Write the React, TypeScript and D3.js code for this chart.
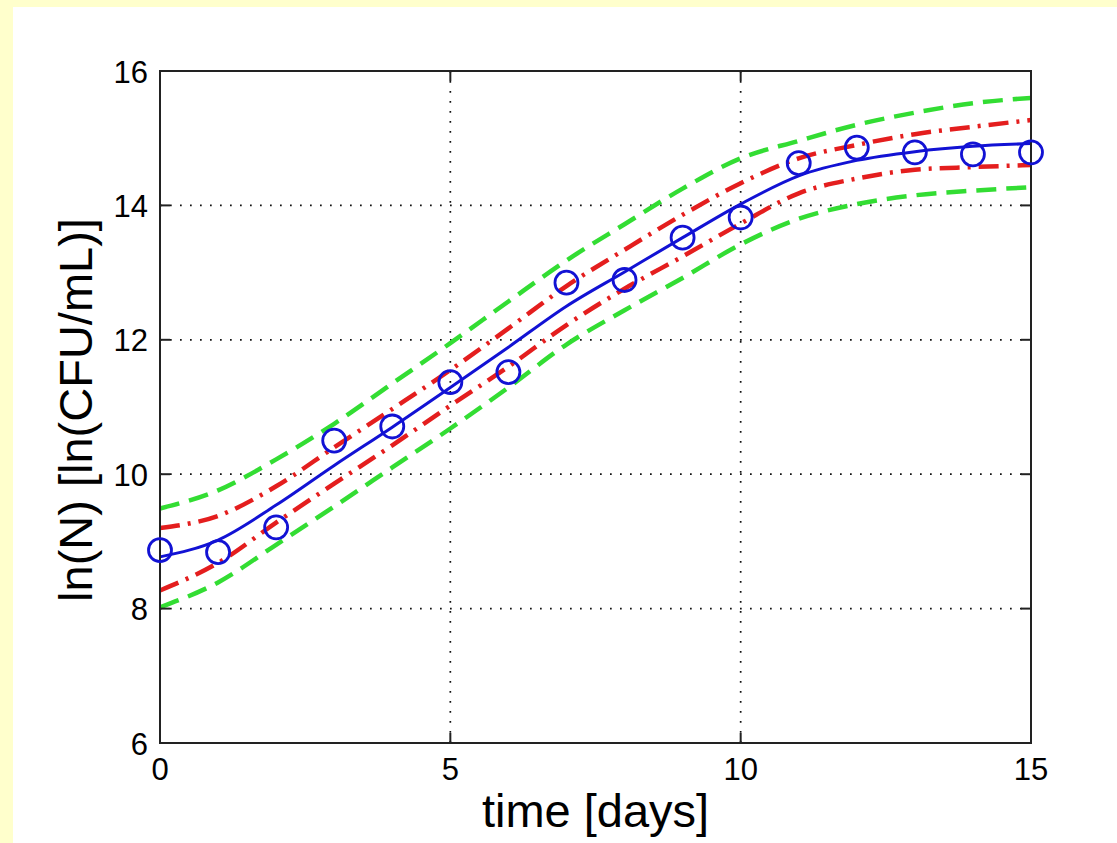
import React from "react";
import * as d3 from "d3";

const days = [0, 1, 2, 3, 4, 5, 6, 7, 8, 9, 10, 11, 12, 13, 14, 15];
const observed = [8.87, 8.84, 9.21, 10.5, 10.71, 11.37, 11.52, 12.85, 12.89, 13.52, 13.82, 14.63, 14.86, 14.79, 14.76, 14.79];
const fitted = [8.77, 9.02, 9.54, 10.13, 10.7, 11.29, 11.89, 12.5, 13.01, 13.52, 14.02, 14.44, 14.67, 14.8, 14.88, 14.92];
const ciUpper = [9.2, 9.38, 9.82, 10.4, 10.97, 11.55, 12.17, 12.8, 13.34, 13.86, 14.33, 14.7, 14.9, 15.06, 15.17, 15.27];
const ciLower = [8.27, 8.68, 9.28, 9.86, 10.43, 11.02, 11.6, 12.22, 12.76, 13.24, 13.73, 14.18, 14.4, 14.53, 14.57, 14.6];
const piUpper = [9.49, 9.76, 10.22, 10.75, 11.35, 11.95, 12.57, 13.18, 13.72, 14.25, 14.7, 14.96, 15.2, 15.38, 15.52, 15.6];
const piLower = [8.02, 8.39, 8.95, 9.52, 10.1, 10.68, 11.29, 11.93, 12.44, 12.92, 13.42, 13.8, 14.02, 14.15, 14.22, 14.27];
const xTicks = [0, 5, 10, 15];
const yTicks = [6, 8, 10, 12, 14, 16];
const xLabel = "time [days]";
const yLabel = "ln(N) [ln(CFU/mL)]";

const FONT = "'Liberation Sans', Arial, Helvetica, sans-serif";

export default function App() {
  const W = 1117;
  const H = 843;
  const left = 160, right = 1031, top = 71, bottom = 743;
  const x = d3.scaleLinear().domain([0, 15]).range([left, right]);
  const y = d3.scaleLinear().domain([6, 16]).range([bottom, top]);
  const mk = (vals: number[]) =>
    d3
      .line<number>()
      .x((_, i) => x(days[i]))
      .y((d) => y(d))
      .curve(d3.curveMonotoneX)(vals) || "";

  const tickLen = 10;
  const gridColor = "#111";

  return (
    <svg
      width={W}
      height={H}
      style={{ position: "absolute", left: 0, top: 0, display: "block" }}
    >
      <rect x={0} y={0} width={W} height={H} fill="#FFFFCC" />
      <rect x={13} y={7} width={W - 13} height={H - 7} fill="#FFFFFF" />

      {/* grid */}
      {xTicks
        .filter((t) => t !== 0 && t !== 15)
        .map((t) => (
          <line
            key={"gx" + t}
            x1={x(t)}
            x2={x(t)}
            y1={top}
            y2={bottom}
            stroke={gridColor}
            strokeWidth={1.7}
            strokeDasharray="1.7 8.3"
          />
        ))}
      {yTicks
        .filter((t) => t !== 6 && t !== 16)
        .map((t) => (
          <line
            key={"gy" + t}
            x1={left}
            x2={right}
            y1={y(t)}
            y2={y(t)}
            stroke={gridColor}
            strokeWidth={1.7}
            strokeDasharray="1.7 8.3"
          />
        ))}

      {/* prediction bands (green dashed) */}
      <path d={mk(piUpper)} fill="none" stroke="#33dd33" strokeWidth={4.5} strokeDasharray="20 10" />
      <path d={mk(piLower)} fill="none" stroke="#33dd33" strokeWidth={4.5} strokeDasharray="20 10" />
      {/* confidence bands (red dash-dot) */}
      <path d={mk(ciUpper)} fill="none" stroke="#e41e1e" strokeWidth={4.5} strokeDasharray="20 8 3 8" />
      <path d={mk(ciLower)} fill="none" stroke="#e41e1e" strokeWidth={4.5} strokeDasharray="20 8 3 8" />
      {/* fitted line */}
      <path d={mk(fitted)} fill="none" stroke="#1212d4" strokeWidth={3} />

      {/* frame */}
      <rect x={left} y={top} width={right - left} height={bottom - top} fill="none" stroke="#222" strokeWidth={2} />
      {xTicks.map((t) => (
        <g key={"tx" + t}>
          <line x1={x(t)} x2={x(t)} y1={bottom} y2={bottom - tickLen} stroke="#222" strokeWidth={2} />
          <line x1={x(t)} x2={x(t)} y1={top} y2={top + tickLen} stroke="#222" strokeWidth={2} />
          <text x={x(t)} y={780} textAnchor="middle" fontFamily={FONT} fontSize={31} fill="#000">
            {t}
          </text>
        </g>
      ))}
      {yTicks.map((t) => (
        <g key={"ty" + t}>
          <line x1={left} x2={left + tickLen} y1={y(t)} y2={y(t)} stroke="#222" strokeWidth={2} />
          <line x1={right} x2={right - tickLen} y1={y(t)} y2={y(t)} stroke="#222" strokeWidth={2} />
          <text x={148} y={y(t) + 11.5} textAnchor="end" fontFamily={FONT} fontSize={31} fill="#000">
            {t}
          </text>
        </g>
      ))}

      {/* observed points */}
      {observed.map((v, i) => (
        <circle key={"o" + i} cx={x(days[i])} cy={y(v)} r={11.5} fill="none" stroke="#1212d4" strokeWidth={2.8} />
      ))}

      {/* axis labels */}
      <text x={(left + right) / 2} y={827} textAnchor="middle" fontFamily={FONT} fontSize={47} fill="#000">
        {xLabel}
      </text>
      <text
        transform={`translate(92, ${(top + bottom) / 2 + 3}) rotate(-90)`}
        textAnchor="middle"
        fontFamily={FONT}
        fontSize={47}
        fill="#000"
      >
        {yLabel}
      </text>
    </svg>
  );
}
